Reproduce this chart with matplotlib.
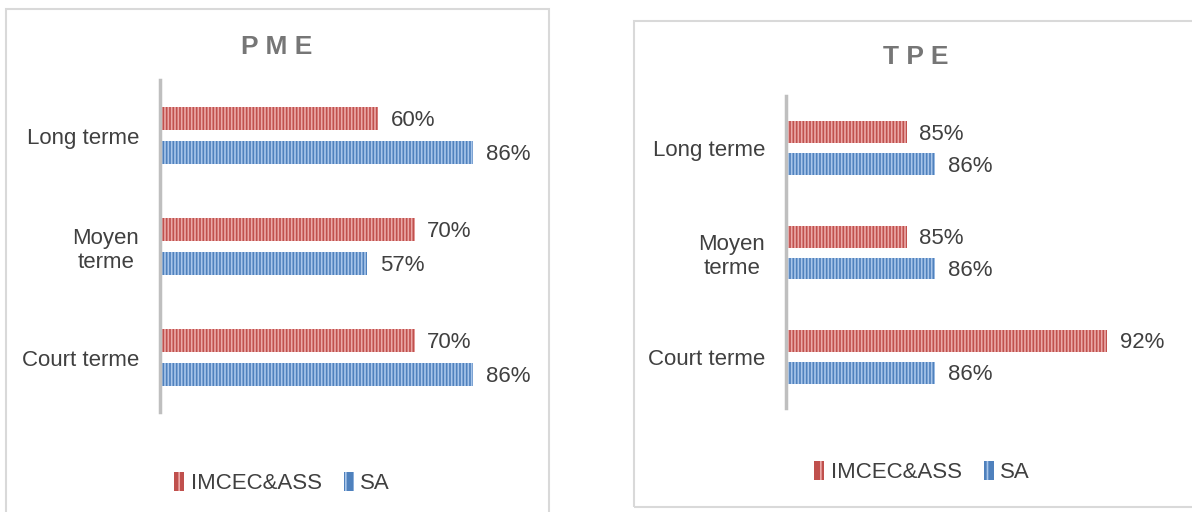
import matplotlib.pyplot as plt
from matplotlib.patches import Rectangle, Patch

plt.rcParams['font.family'] = ['Liberation Sans', 'DejaVu Sans']
plt.rcParams['hatch.linewidth'] = 1.2

categories = ["Court terme", "Moyen\nterme", "Long terme"]
pme_imcec = [70, 70, 60]
pme_sa = [86, 57, 86]
tpe_imcec = [92, 85, 85]
tpe_sa = [86, 86, 86]

red = '#C0504D'
red_hatch = '#EBA9A8'
blue = '#4F81BD'
blue_hatch = '#A9C6EA'
txt = '#404040'
W, H = 1192, 512

fig = plt.figure(figsize=(W / 100, H / 100), dpi=100)

# panel frames
fig.patches.append(Rectangle((6 / W, -0.05), 543 / W, 1 - 9 / H + 0.05, transform=fig.transFigure,
                             fill=False, edgecolor='#D9D9D9', linewidth=1.5))
fig.patches.append(Rectangle((634 / W, 1 - 507 / H), 0.5, (507 - 21) / H, transform=fig.transFigure,
                             fill=False, edgecolor='#D9D9D9', linewidth=1.5))


def panel(rect, xlim, imcec, sa, title, title_xy, leg_xy):
    ax = fig.add_axes(rect)
    y = range(len(categories))
    h = 0.21
    off = 0.153
    b1 = ax.barh([i + off for i in y], imcec, height=h, color=red, edgecolor=red_hatch,
                 linewidth=0, hatch='|||||')
    b2 = ax.barh([i - off for i in y], sa, height=h, color=blue, edgecolor=blue_hatch,
                 linewidth=0, hatch='|||||')
    for bars, vals in ((b1, imcec), (b2, sa)):
        for b, v in zip(bars, vals):
            ax.annotate(f"{v}%", (b.get_width(), b.get_y() + b.get_height() / 2),
                        xytext=(9, -1.5), textcoords='offset points', va='center', ha='left',
                        fontsize=16, color=txt)
    ax.set_xlim(*xlim)
    ax.set_ylim(-0.49, 2.5)
    ax.set_yticks(list(y))
    ax.set_yticklabels(categories, fontsize=16, color=txt, multialignment='center')
    ax.tick_params(axis='y', length=0, pad=15)
    ax.set_xticks([])
    for s in ('top', 'right', 'bottom'):
        ax.spines[s].set_visible(False)
    ax.spines['left'].set_color('#BFBFBF')
    ax.spines['left'].set_linewidth(2.5)
    fig.text(title_xy[0] / W, 1 - title_xy[1] / H, title, ha='center', va='center',
             fontsize=19, fontweight='bold', color='#767676')
    handles = [Patch(facecolor=red, edgecolor=red_hatch, linewidth=0, hatch='||'),
               Patch(facecolor=blue, edgecolor=blue_hatch, linewidth=0, hatch='||')]
    fig.legend(handles, ["IMCEC&ASS", "SA"], loc='center',
               bbox_to_anchor=(leg_xy[0] / W, 1 - leg_xy[1] / H), ncol=2, frameon=False,
               fontsize=16, labelcolor=txt, handlelength=0.45, handleheight=0.9,
               handletextpad=0.3, columnspacing=1.0)
    return ax


panel([160 / W, 1 - 412 / H, 364 / W, 332 / H], (0, 100), pme_imcec, pme_sa,
      "P M E", (277, 47), (282, 483))
panel([786 / W, 1 - 408 / H, 344 / W, 312 / H], (80.8, 92.79), tpe_imcec, tpe_sa,
      "T P E", (916, 57), (922, 472))

fig.savefig("out.png", dpi=100)
